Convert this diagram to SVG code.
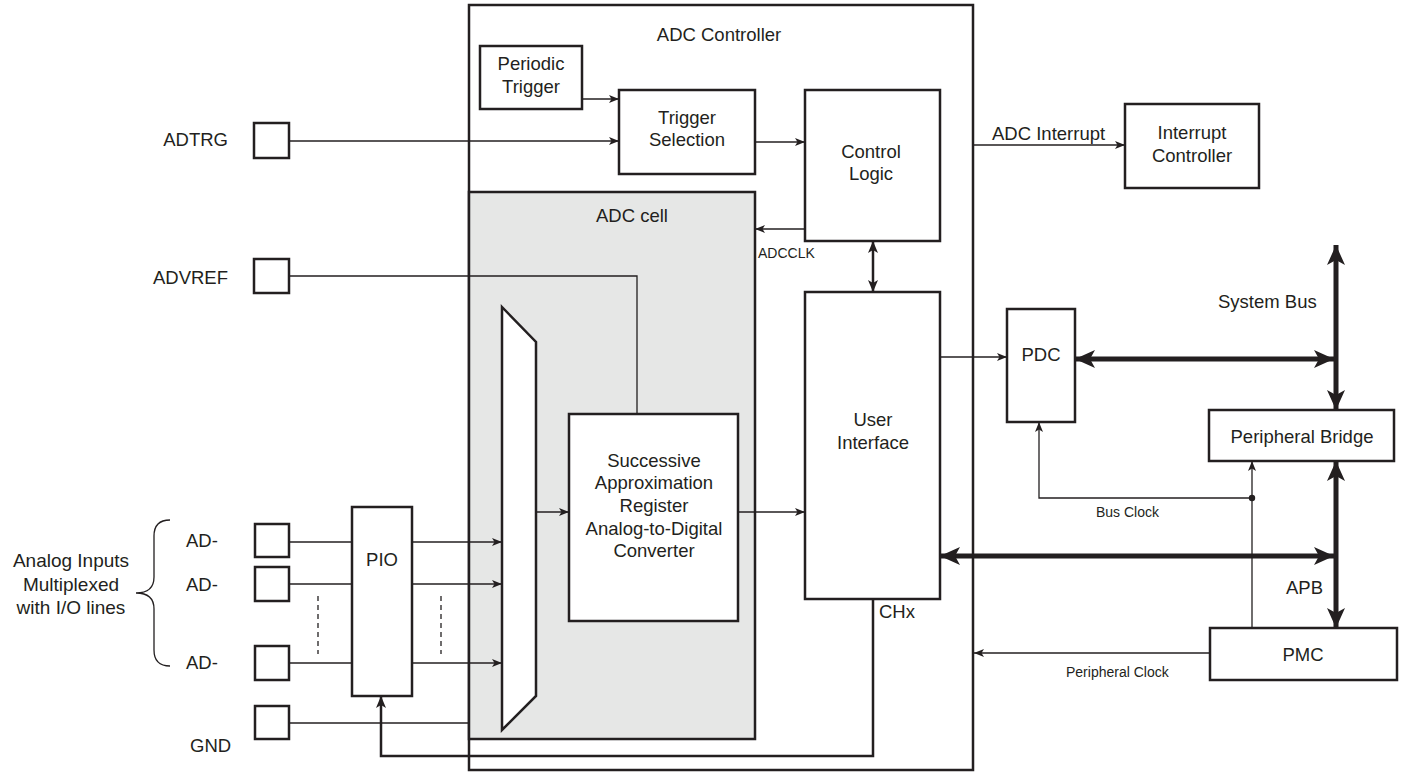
<svg xmlns="http://www.w3.org/2000/svg" width="1405" height="772" viewBox="0 0 1405 772">
<defs>
<style>
.box{fill:#fff;stroke:#231f20;stroke-width:2.5}
.cell{fill:#e6e7e6;stroke:#231f20;stroke-width:2.5}
.ln{fill:none;stroke:#231f20;stroke-width:1.3}
.med{fill:none;stroke:#231f20;stroke-width:2.5}
.bus{fill:none;stroke:#231f20;stroke-width:5}
.dash{fill:none;stroke:#231f20;stroke-width:1.3;stroke-dasharray:5,4}
text{font-family:"Liberation Sans",Arial,sans-serif;font-size:18.5px;fill:#231f20}
.c{text-anchor:middle}
.e{text-anchor:end}
.s{font-size:14px}
</style>
<marker id="a" markerUnits="userSpaceOnUse" markerWidth="10" markerHeight="8" refX="10" refY="4" orient="auto-start-reverse" viewBox="0 0 10 8"><path d="M0,0 L10,4 L0,8 L2.5,4 z" fill="#231f20"/></marker>
<marker id="m" markerUnits="userSpaceOnUse" markerWidth="12" markerHeight="10" refX="12" refY="5" orient="auto-start-reverse" viewBox="0 0 12 10"><path d="M0,0 L12,5 L0,10 L3,5 z" fill="#231f20"/></marker>
<marker id="b" markerUnits="userSpaceOnUse" markerWidth="20" markerHeight="18" refX="20" refY="9" orient="auto-start-reverse" viewBox="0 0 20 18"><path d="M0,0 L20,9 L0,18 L5,9 z" fill="#231f20"/></marker>
</defs>

<g id="adc-controller"><rect class="box" x="469" y="5" width="504" height="765"/><text class="c" x="719" y="41">ADC Controller</text></g>
<g id="adc-cell"><rect class="cell" x="469" y="192" width="286" height="547"/><text class="c" x="632" y="222">ADC cell</text></g>
<g id="periodic-trigger"><rect class="box" x="480" y="46" width="102" height="63"/><text class="c" x="531" y="70">Periodic</text><text class="c" x="531" y="93">Trigger</text></g>
<g id="trigger-selection"><rect class="box" x="619" y="90" width="136" height="84"/><text class="c" x="687" y="124">Trigger</text><text class="c" x="687" y="146">Selection</text></g>
<g id="control-logic"><rect class="box" x="805" y="90" width="135" height="151"/><text class="c" x="871" y="158">Control</text><text class="c" x="871" y="180">Logic</text></g>
<g id="user-interface"><rect class="box" x="805" y="292" width="135" height="307"/><text class="c" x="873" y="426">User</text><text class="c" x="873" y="449">Interface</text></g>
<g id="mux"><polygon class="box" points="502,307 536,342 536,696 502,730"/></g>
<g id="sar-adc"><rect class="box" x="569" y="414" width="169" height="207"/>
<text class="c" x="654" y="467">Successive</text><text class="c" x="654" y="489">Approximation</text><text class="c" x="654" y="512">Register</text><text class="c" x="654" y="535">Analog-to-Digital</text><text class="c" x="654" y="557">Converter</text></g>
<g id="interrupt-controller"><rect class="box" x="1125" y="104" width="134" height="84"/><text class="c" x="1192" y="139">Interrupt</text><text class="c" x="1192" y="162">Controller</text></g>
<g id="pdc"><rect class="box" x="1007" y="309" width="68" height="113"/><text class="c" x="1041" y="361">PDC</text></g>
<g id="peripheral-bridge"><rect class="box" x="1209" y="410" width="185" height="51"/><text class="c" x="1302" y="443">Peripheral Bridge</text></g>
<g id="pmc"><rect class="box" x="1210" y="628" width="187" height="52"/><text class="c" x="1303" y="661">PMC</text></g>
<g id="pio"><rect class="box" x="352" y="507" width="60" height="189"/><text class="c" x="382" y="566">PIO</text></g>

<g id="pin-adtrg"><rect class="box" x="254" y="123" width="35" height="35"/><text class="e" x="228" y="146">ADTRG</text></g>
<g id="pin-advref"><rect class="box" x="254" y="259" width="35" height="34"/><text class="e" x="228" y="284">ADVREF</text></g>
<g id="pin-ad1"><rect class="box" x="255" y="524" width="34" height="33"/><text x="186" y="547">AD-</text></g>
<g id="pin-ad2"><rect class="box" x="255" y="567" width="34" height="34"/><text x="186" y="591">AD-</text></g>
<g id="pin-ad3"><rect class="box" x="255" y="646" width="34" height="34"/><text x="186" y="669">AD-</text></g>
<g id="pin-gnd"><rect class="box" x="255" y="706" width="34" height="33"/><text x="190" y="752">GND</text></g>
<g id="analog-inputs">
<path class="ln" d="M170,520 Q154,520 154,536 L154,577 Q154,593 136,593 Q154,593 154,609 L154,650 Q154,666 170,666"/>
<text class="c" x="71" y="567" style="font-size:19px">Analog Inputs</text><text class="c" x="71" y="591" style="font-size:19px">Multiplexed</text><text class="c" x="71" y="614" style="font-size:19px">with I/O lines</text>
</g>

<g id="connectors">
<path class="ln" d="M582,99 H619" marker-end="url(#a)"/>
<path class="ln" d="M289,141 H619" marker-end="url(#a)"/>
<path class="ln" d="M755,142 H805" marker-end="url(#a)"/>
<path class="ln" d="M805,229 H755" marker-end="url(#a)"/>
<text class="s" x="758" y="258">ADCCLK</text>
<path class="med" d="M873,241 V292" marker-start="url(#m)" marker-end="url(#m)"/>
<path class="ln" d="M289,276 H637 V414"/>
<path class="ln" d="M289,542 H352"/>
<path class="ln" d="M289,584 H352"/>
<path class="ln" d="M289,663 H352"/>
<path class="ln" d="M412,542 H502" marker-end="url(#a)"/>
<path class="ln" d="M412,584 H502" marker-end="url(#a)"/>
<path class="ln" d="M412,663 H502" marker-end="url(#a)"/>
<path class="dash" d="M318,596 V654"/>
<path class="dash" d="M441,596 V654"/>
<path class="ln" d="M289,723 H469"/>
<path class="ln" d="M536,512 H569" marker-end="url(#a)"/>
<path class="ln" d="M738,512 H805" marker-end="url(#a)"/>
<path class="med" d="M873,599 V756 H381 V696" marker-end="url(#m)"/>
<text x="879" y="618">CHx</text>
<path class="ln" d="M973,145 H1125" marker-end="url(#a)"/>
<text x="992" y="140">ADC Interrupt</text>
<path class="ln" d="M940,357 H1007" marker-end="url(#a)"/>
<path class="bus" d="M1075,359 H1334" marker-start="url(#b)" marker-end="url(#b)"/>
<path class="bus" d="M1336,245 V410" marker-start="url(#b)" marker-end="url(#b)"/>
<text x="1218" y="308">System Bus</text>
<path class="bus" d="M1336,461 V628" marker-start="url(#b)" marker-end="url(#b)"/>
<text x="1286" y="594">APB</text>
<path class="bus" d="M940,556 H1334" marker-start="url(#b)" marker-end="url(#b)"/>
<path class="ln" d="M1252,628 V461" marker-end="url(#a)"/>
<path class="ln" d="M1252,498 H1039 V422" marker-end="url(#a)"/>
<circle cx="1252" cy="498" r="3.2" fill="#231f20"/>
<text class="s" x="1096" y="517">Bus Clock</text>
<path class="ln" d="M1210,653 H974" marker-end="url(#a)"/>
<text class="s" x="1066" y="677">Peripheral Clock</text>
</g>
</svg>
